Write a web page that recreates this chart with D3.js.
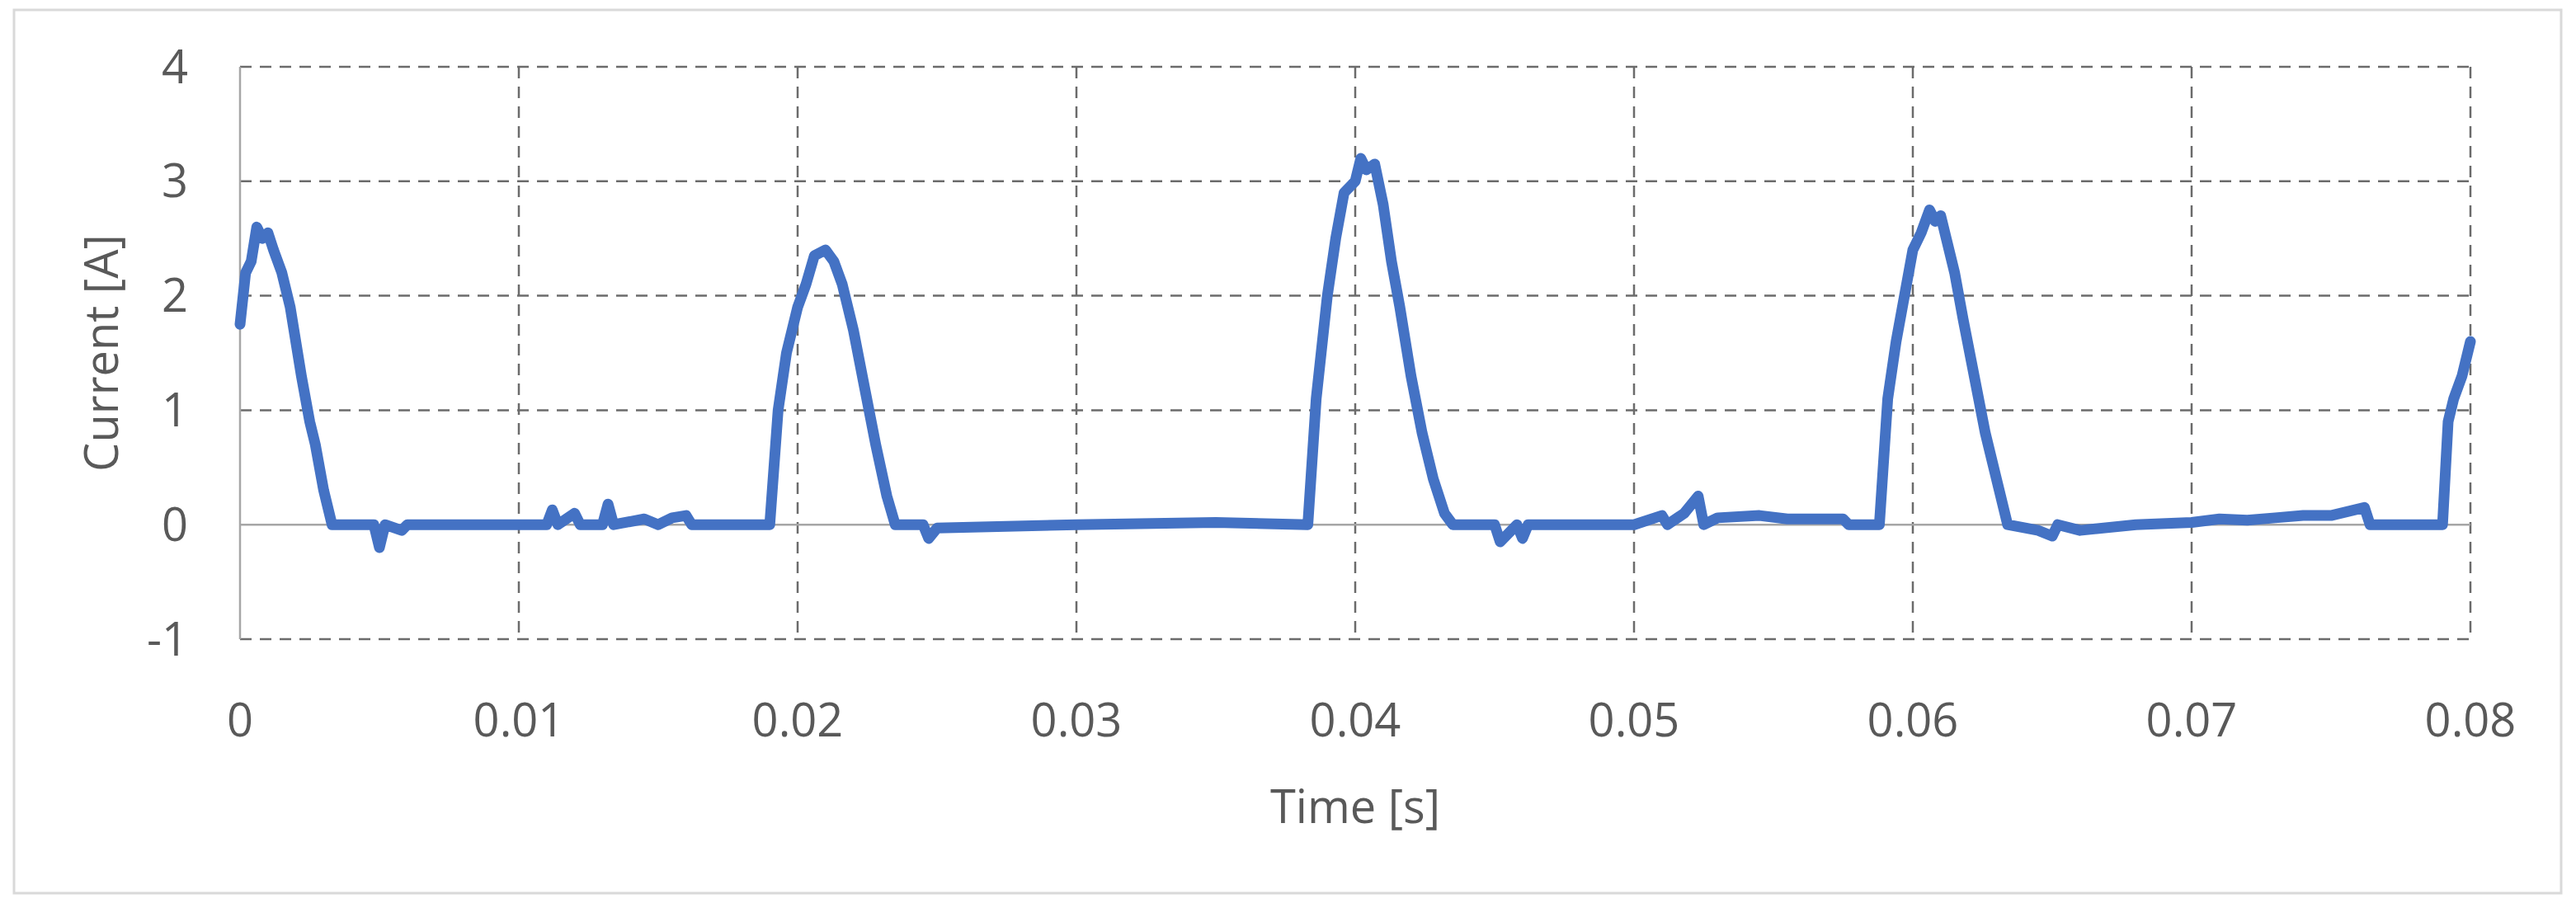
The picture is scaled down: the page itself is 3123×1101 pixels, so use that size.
<!DOCTYPE html>
<meta charset="utf-8">
<script src="https://cdn.jsdelivr.net/npm/d3@7"></script>
<style>
body { margin: 0; background: #fff; }
text { font-family: "Open Sans", "Noto Sans", sans-serif; fill: #595959; }
</style>
<svg id="chart" width="3123" height="1101"></svg>
<script>
// time [s] and current [A]
var times = [0, 0.0002, 0.0004, 0.0006, 0.0008, 0.001, 0.0012, 0.0015, 0.0018, 0.0022, 0.0025, 0.0027, 0.003, 0.0033,
  0.0048, 0.005, 0.0052, 0.0058, 0.006, 0.0065, 0.011, 0.0112, 0.0114, 0.012, 0.0122, 0.013, 0.0132, 0.0134,
  0.0145, 0.015, 0.0155, 0.016, 0.0162, 0.0165, 0.019, 0.0193, 0.0196, 0.02, 0.0203, 0.0206, 0.021, 0.0213,
  0.0216, 0.022, 0.0224, 0.0228, 0.0232, 0.0235, 0.0245, 0.0247, 0.025, 0.03, 0.035, 0.0383, 0.0386, 0.039,
  0.0393, 0.0396, 0.04, 0.0402, 0.0404, 0.0407, 0.041, 0.0413, 0.0416, 0.042, 0.0424, 0.0428, 0.0432, 0.0435,
  0.045, 0.0452, 0.0458, 0.046, 0.0462, 0.05, 0.051, 0.0512, 0.0518, 0.0523, 0.0525, 0.053, 0.0545, 0.0555,
  0.0575, 0.0577, 0.0588, 0.0591, 0.0594, 0.0597, 0.06, 0.0603, 0.0606, 0.0608, 0.061, 0.0612, 0.0615, 0.0618,
  0.0622, 0.0626, 0.063, 0.0634, 0.0645, 0.065, 0.0652, 0.066, 0.068, 0.07, 0.071, 0.072, 0.073, 0.074, 0.075,
  0.0762, 0.0764, 0.079, 0.0792, 0.0794, 0.0797, 0.08];
var current = [1.75, 2.2, 2.3, 2.6, 2.5, 2.55, 2.4, 2.2, 1.9, 1.3, 0.9, 0.7, 0.3, 0,
  0, -0.2, 0, -0.05, 0, 0, 0, 0.13, 0, 0.1, 0, 0, 0.18, 0,
  0.05, 0, 0.06, 0.08, 0, 0, 0, 1.0, 1.5, 1.9, 2.1, 2.35, 2.4, 2.3,
  2.1, 1.7, 1.2, 0.7, 0.25, 0, 0, -0.12, -0.03, 0, 0.02, 0, 1.1, 2.0,
  2.5, 2.9, 3.0, 3.2, 3.1, 3.15, 2.8, 2.3, 1.9, 1.3, 0.8, 0.4, 0.1, 0,
  0, -0.15, 0, -0.12, 0, 0, 0.08, 0, 0.1, 0.25, 0, 0.06, 0.08, 0.05,
  0.05, 0, 0, 1.1, 1.6, 2.0, 2.4, 2.55, 2.75, 2.65, 2.7, 2.5, 2.2, 1.8,
  1.3, 0.8, 0.4, 0, -0.05, -0.1, 0, -0.05, 0, 0.02, 0.05, 0.04, 0.06, 0.08, 0.08,
  0.15, 0, 0, 0.9, 1.1, 1.3, 1.6];
var xTicks = [0, 0.01, 0.02, 0.03, 0.04, 0.05, 0.06, 0.07, 0.08];
var yTicks = [-1, 0, 1, 2, 3, 4];

var svg = d3.select('#chart');
var x = d3.scaleLinear().domain([0, 0.08]).range([291, 2995]);
var y = d3.scaleLinear().domain([-1, 4]).range([775, 81]);

// outer frame
svg.append('rect').attr('x', 17).attr('y', 12).attr('width', 3088).attr('height', 1071)
  .attr('fill', 'none').attr('stroke', '#d9d9d9').attr('stroke-width', 3);

// dashed grid
svg.selectAll('.hg').data(yTicks.filter(d => d != 0)).enter().append('line')
  .attr('x1', x(0)).attr('x2', x(0.08)).attr('y1', d => y(d)).attr('y2', d => y(d))
  .attr('stroke', '#6b6b6b').attr('stroke-width', 2.5).attr('stroke-dasharray', '14,10');
svg.selectAll('.vg').data(xTicks.slice(1)).enter().append('line')
  .attr('x1', d => x(d)).attr('x2', d => x(d)).attr('y1', y(4)).attr('y2', y(-1))
  .attr('stroke', '#6b6b6b').attr('stroke-width', 2.5).attr('stroke-dasharray', '14,10');
// axis lines
svg.append('line').attr('x1', x(0)).attr('x2', x(0)).attr('y1', y(4)).attr('y2', y(-1))
  .attr('stroke', '#a6a6a6').attr('stroke-width', 2.5);
svg.append('line').attr('x1', x(0)).attr('x2', x(0.08)).attr('y1', y(0)).attr('y2', y(0))
  .attr('stroke', '#a6a6a6').attr('stroke-width', 2.5);

// tick labels
svg.selectAll('.yl').data(yTicks).enter().append('text')
  .attr('x', 228).attr('y', d => y(d)).attr('dy', '0.35em').attr('text-anchor', 'end')
  .attr('font-size', 56).text(d => d);
svg.selectAll('.xl').data(xTicks).enter().append('text')
  .attr('x', d => x(d)).attr('y', 873).attr('dy', '0.35em').attr('text-anchor', 'middle')
  .attr('font-size', 56).text(d => d);

// axis titles
svg.append('text').attr('x', 1643).attr('y', 978).attr('dy', '0.35em').attr('text-anchor', 'middle')
  .attr('font-size', 56).text('Time [s]');
svg.append('text').attr('transform', 'translate(123,428) rotate(-90)').attr('dy', '0.35em')
  .attr('text-anchor', 'middle').attr('font-size', 56).text('Current [A]');

// trace
var line = d3.line().x((d, i) => x(times[i])).y(d => y(d));
svg.append('path').datum(current).attr('d', line).attr('fill', 'none')
  .attr('stroke', '#4472c4').attr('stroke-width', 13).attr('stroke-linejoin', 'round').attr('stroke-linecap', 'round');
</script>
